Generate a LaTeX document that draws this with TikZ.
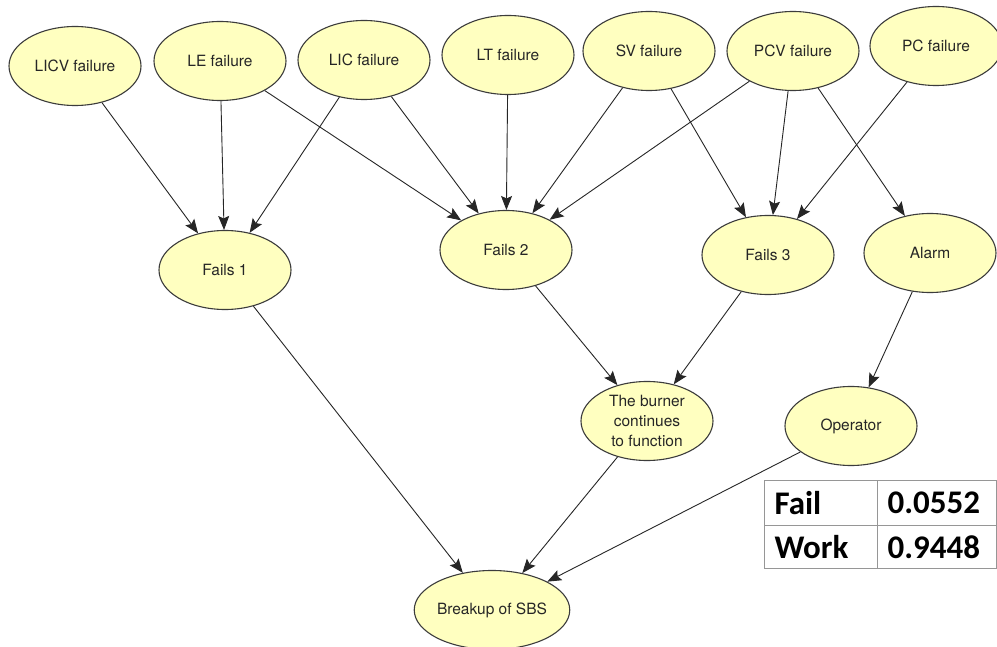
\documentclass[tikz,border=0pt]{standalone}
\usepackage{fontspec}
\setmainfont{TeX Gyre Heros}
\newfontfamily\tabfont{Carlito}
\usetikzlibrary{arrows.meta,shapes.geometric}
\definecolor{eventfill}{RGB}{255,255,192}
\definecolor{eventline}{RGB}{60,60,60}
\definecolor{tabline}{RGB}{150,150,150}
\tikzset{
	event/.style={ellipse, draw=eventline, fill=eventfill, line width=1.1pt, minimum width=132pt, minimum height=79pt, inner sep=0pt, text=black!85, font=\fontsize{15.5}{20}\selectfont, align=center},
	link/.style={-{Stealth[length=14pt,width=11pt,inset=2.5pt]}, line width=0.9pt, draw=black!85},
	cell/.style={anchor=west, font=\tabfont\bfseries\fontsize{33}{36}\selectfont}
}

\begin{document}
\begin{tikzpicture}[x=1pt, y=-1pt]
		%%%%% START %%%%%
		\useasboundingbox[fill=white] (0, 0) rectangle (997, 647);
		
		% causes
		\node[event] (licv) at (75, 66) {LICV failure};
		\node[event] (le) at (220, 61) {LE failure};
		\node[event] (lic) at (364, 60) {LIC failure};
		\node[event] (lt) at (508, 55) {LT failure};
		\node[event] (sv) at (649, 51) {SV failure};
		\node[event] (pcv) at (793, 51) {PCV failure};
		\node[event] (pc) at (936, 46) {PC failure};
		
		% intermediate events
		\node[event] (fails1) at (225, 270) {Fails 1};
		\node[event] (fails2) at (506, 250) {Fails 2};
		\node[event] (fails3) at (768, 255) {Fails 3};
		\node[event] (alarm) at (930, 253) {Alarm};
		\node[event] (burner) at (647, 421) {The burner\\continues\\to function};
		\node[event] (operator) at (851, 426) {Operator};
		\node[event] (breakup) at (492, 610) {Breakup of SBS};
		
		% links
		\draw[link] (licv) -- (fails1);
		\draw[link] (le) -- (fails1);
		\draw[link] (lic) -- (fails1);
		\draw[link] (le) -- (fails2);
		\draw[link] (lic) -- (fails2);
		\draw[link] (lt) -- (fails2);
		\draw[link] (sv) -- (fails2);
		\draw[link] (pcv) -- (fails2);
		\draw[link] (sv) -- (fails3);
		\draw[link] (pcv) -- (fails3);
		\draw[link] (pc) -- (fails3);
		\draw[link] (pcv) -- (alarm);
		\draw[link] (fails2) -- (burner);
		\draw[link] (fails3) -- (burner);
		\draw[link] (alarm) -- (operator);
		\draw[link] (fails1) -- (breakup);
		\draw[link] (burner) -- (breakup);
		\draw[link] (operator) -- (breakup);
		
		% result table
		\draw[line width=0.8pt, color=tabline] (764, 480) rectangle (996, 568);
		\draw[line width=0.8pt, color=tabline] (764, 525) -- (996, 525);
		\draw[line width=0.8pt, color=tabline] (877, 480) -- (877, 568);
		\node[cell] (failkey) at (771, 503) {Fail};
		\node[cell] (failval) at (884, 503) {0.0552};
		\node[cell] (workkey) at (771, 547) {Work};
		\node[cell] (workval) at (884, 547) {0.9448};
		
		%%%%% END %%%%%
\end{tikzpicture}
\end{document}
